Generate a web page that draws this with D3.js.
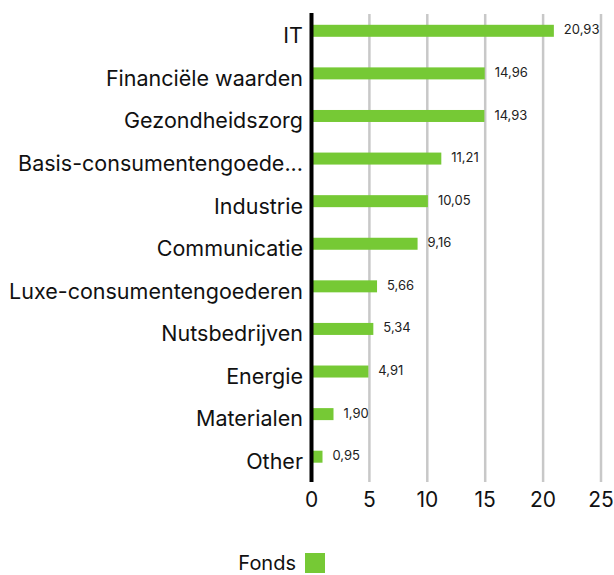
<!DOCTYPE html>
<html><head><meta charset="utf-8">
<script src="https://cdn.jsdelivr.net/npm/d3@7"></script>
<style>body{margin:0;background:#fff;} svg{display:block;font-family:Inter, "Open Sans", sans-serif;}</style>
</head><body>
<svg id="chart" width="614" height="575"></svg>
<script>
const categories = ["IT","Financiële waarden","Gezondheidszorg","Basis-consumentengoede...","Industrie","Communicatie","Luxe-consumentengoederen","Nutsbedrijven","Energie","Materialen","Other"];
const fondsValues = [20.93,14.96,14.93,11.21,10.05,9.16,5.66,5.34,4.91,1.90,0.95];
const xTicks = [0,5,10,15,20,25];
const seriesName = "Fonds";
const color = "#76c935";

const svg = d3.select("#chart");
const x = d3.scaleLinear().domain([0,25]).range([311.5,601]);
const y = d3.scaleBand().domain(categories).range([13.5,482]).padding(0);

// gridlines
svg.append("g").selectAll("line").data(xTicks.filter(d=>d>0)).join("line")
  .attr("x1",d=>x(d)).attr("x2",d=>x(d)).attr("y1",14).attr("y2",482)
  .attr("stroke","#c8c8c8").attr("stroke-width",2.5);

// bars
const bw = 12;
svg.append("g").selectAll("rect").data(categories).join("rect")
  .attr("x",x(0)+1.5).attr("y",d=>y(d)+y.bandwidth()/2-10)
  .attr("width",(d,i)=>x(fondsValues[i])-x(0)-1.5).attr("height",bw)
  .attr("fill",color);

// value labels
svg.append("g").selectAll("text").data(categories).join("text")
  .attr("x",(d,i)=>x(fondsValues[i])+10).attr("y",d=>y(d)+y.bandwidth()/2-4)
  .attr("dominant-baseline","middle").attr("font-size",13).attr("fill","#222")
  .text((d,i)=>fondsValues[i].toFixed(2).replace(".",","));

// axis line
svg.append("line").attr("x1",x(0)).attr("x2",x(0)).attr("y1",13).attr("y2",482)
  .attr("stroke","#000").attr("stroke-width",4);

// category labels
svg.append("g").selectAll("text").data(categories).join("text")
  .attr("x",303).attr("y",d=>y(d)+y.bandwidth()/2+2.5)
  .attr("text-anchor","end").attr("dominant-baseline","middle")
  .attr("font-size",21.5).attr("fill","#111").text(d=>d);

// x tick labels
svg.append("g").selectAll("text").data(xTicks).join("text")
  .attr("x",d=>x(d)).attr("y",501).attr("text-anchor","middle")
  .attr("dominant-baseline","middle").attr("font-size",21).attr("fill","#111")
  .text(d=>d);

// legend
svg.append("text").attr("x",296).attr("y",565).attr("text-anchor","end")
  .attr("dominant-baseline","middle").attr("font-size",20).attr("fill","#111").text(seriesName);
svg.append("rect").attr("x",305).attr("y",553).attr("width",20).attr("height",20).attr("fill",color);
</script>
</body></html>
